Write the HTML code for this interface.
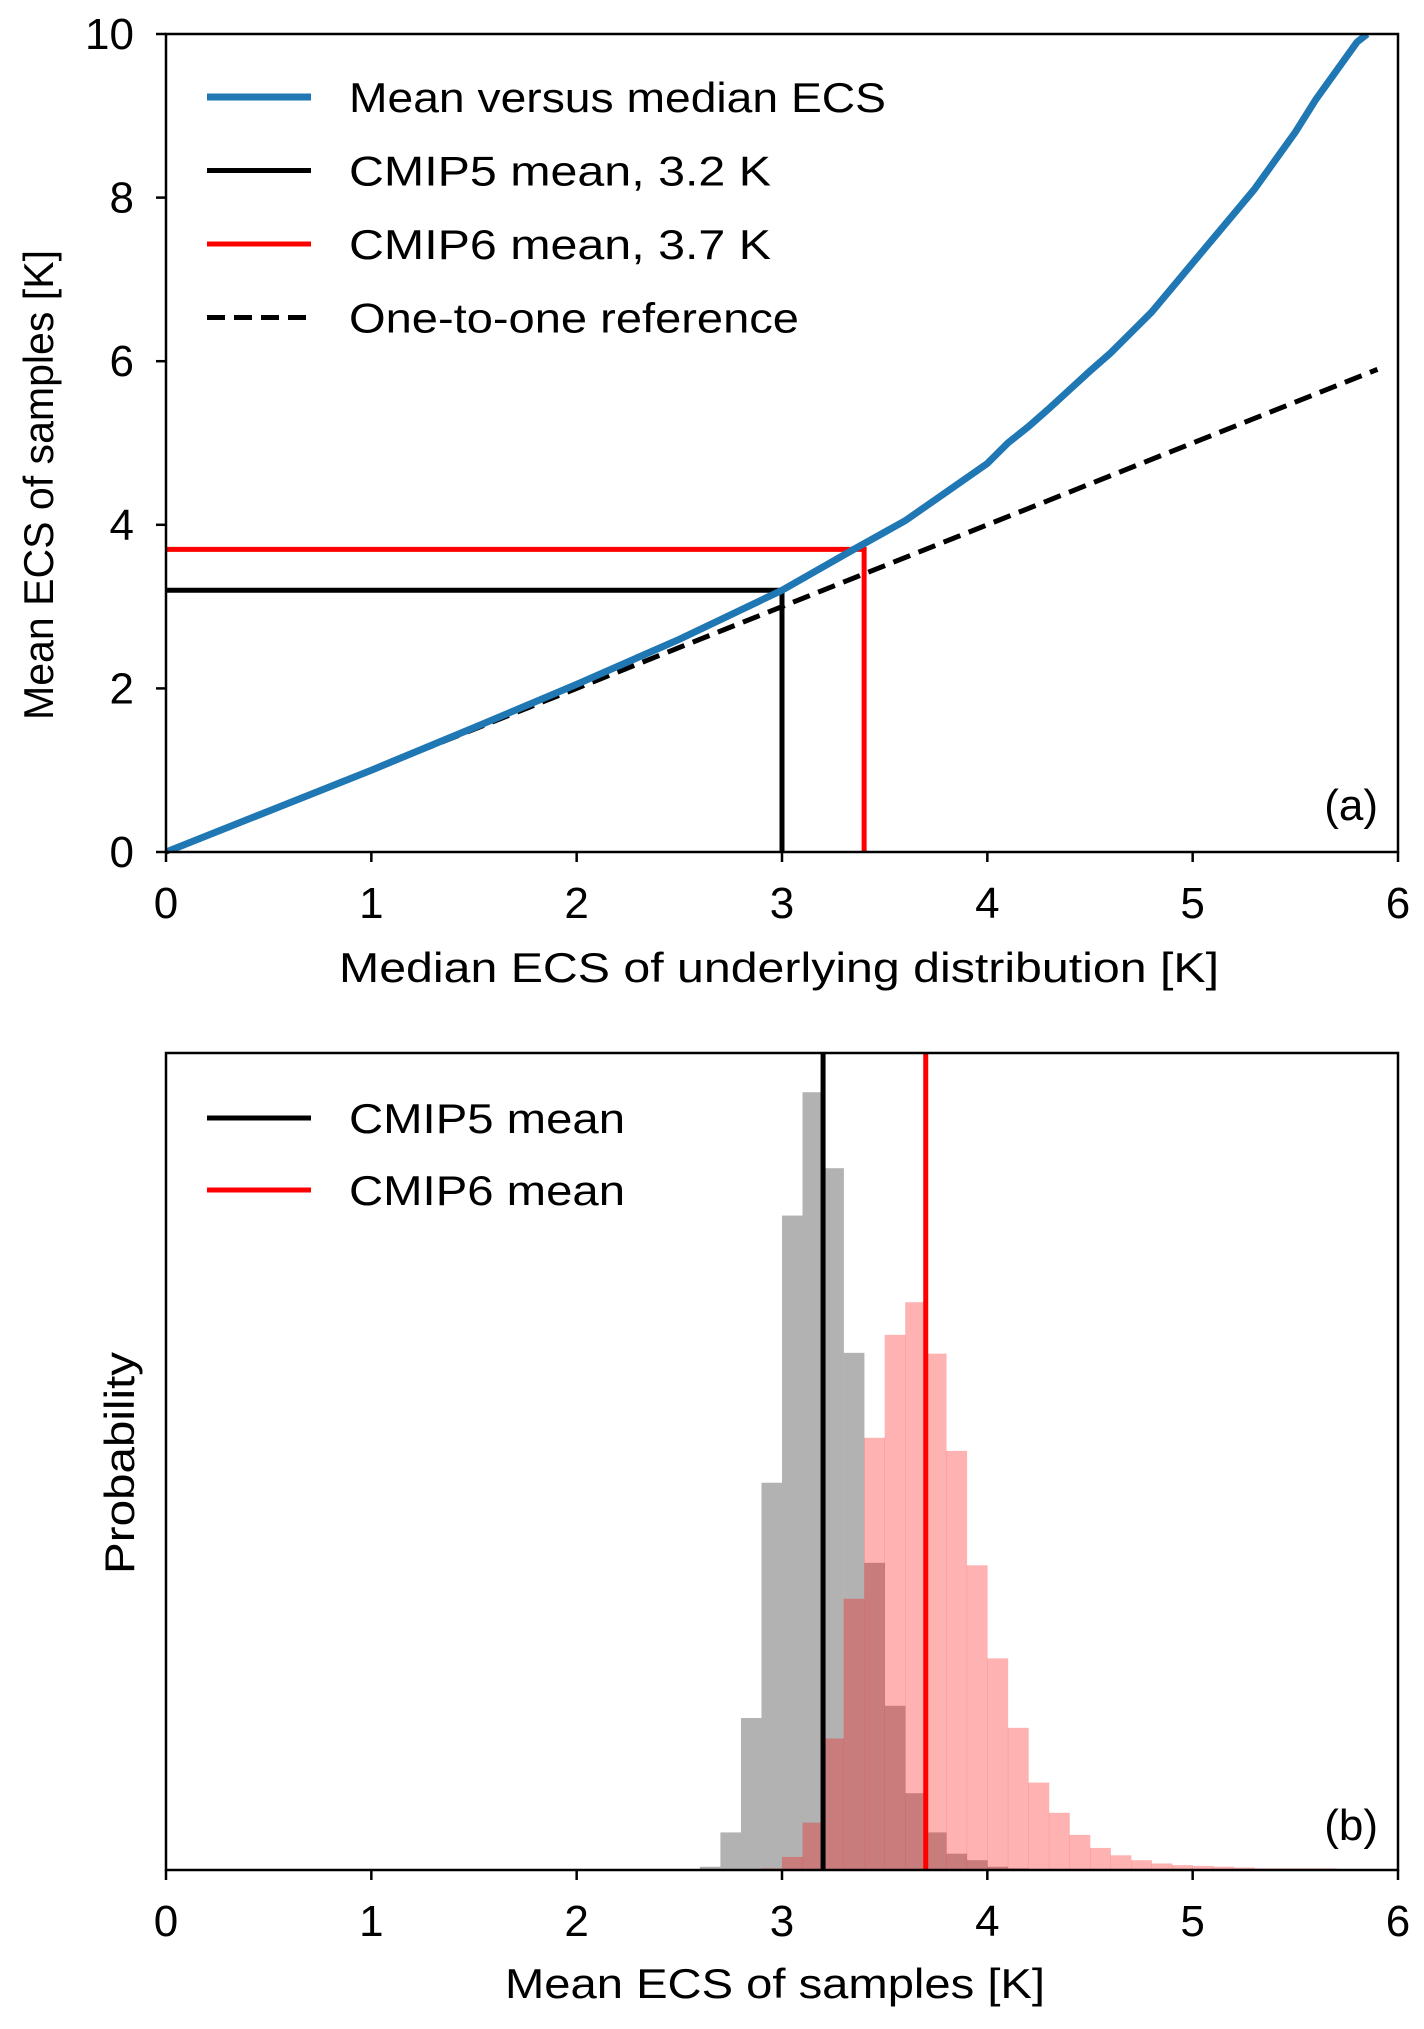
<!DOCTYPE html>
<html><head><meta charset="utf-8"><style>
html,body{margin:0;padding:0;background:#fff}
svg{display:block;font-family:"Liberation Sans",sans-serif}
</style></head><body>
<svg id="fig" width="1424" height="2029" viewBox="0 0 1424 2029"></svg>
<script>
// Panel (a) data
const medianX = [0,0.5,1,1.5,2,2.5,3,3.35,3.6,3.8,4,4.1,4.2,4.3,4.4,4.5,4.6,4.7,4.8,4.9,5,5.1,5.2,5.3,5.4,5.5,5.6,5.7,5.8,5.85];
const meanY   = [0,0.5,1.0,1.52,2.05,2.6,3.2,3.7,4.05,4.4,4.75,5.0,5.2,5.42,5.65,5.88,6.1,6.35,6.6,6.9,7.2,7.5,7.8,8.1,8.45,8.8,9.2,9.55,9.9,10];
const xTicksA = [0,1,2,3,4,5,6];
const yTicksA = [0,2,4,6,8,10];
const cmip5Mean = 3.2, cmip5Median = 3.0;
const cmip6Mean = 3.7, cmip6Median = 3.4;
// Panel (b) data (bin width 0.1)
const grayStart = 2.6;
const grayVals = [0.004,0.046,0.186,0.474,0.801,0.952,0.859,0.633,0.376,0.201,0.094,0.046,0.02,0.012,0.004,0.002];
const redStart = 2.9;
const redVals = [0.002,0.016,0.058,0.161,0.332,0.529,0.655,0.695,0.632,0.513,0.373,0.259,0.174,0.107,0.07,0.043,0.027,0.018,0.012,0.008,0.006,0.005,0.004,0.003,0.002,0.002,0.002,0.002];
const xTicksB = [0,1,2,3,4,5,6];

const NS='http://www.w3.org/2000/svg';
const svg=document.getElementById('fig');
function mk(tag,attrs,parent){const e=document.createElementNS(NS,tag);for(const k in attrs)e.setAttribute(k,attrs[k]);(parent||svg).appendChild(e);return e;}
const TF=44;

// ---- Panel A ----
const A={l:166,r:1398,t:34,b:852};
const ax=v=>A.l+(A.r-A.l)*v/6;
const ay=v=>A.b-(A.b-A.t)*v/10;
const ga=mk('g',{});


const clipA=mk('clipPath',{id:'clipA'});mk('rect',{x:A.l,y:A.t,width:A.r-A.l,height:A.b-A.t},clipA);
const dash=mk('line',{x1:ax(0),y1:ay(0),x2:ax(5.9),y2:ay(5.9),stroke:'#000','stroke-width':5,'stroke-dasharray':'18,9'},ga);


const l5=mk('polyline',{points:`${ax(0)},${ay(cmip5Mean)} ${ax(cmip5Median)},${ay(cmip5Mean)} ${ax(cmip5Median)},${ay(0)}`,fill:'none',stroke:'#000','stroke-width':5},ga);


const l6=mk('polyline',{points:`${ax(0)},${ay(cmip6Mean)} ${ax(cmip6Median)},${ay(cmip6Mean)} ${ax(cmip6Median)},${ay(0)}`,fill:'none',stroke:'#f00','stroke-width':5},ga);


const bl=mk('polyline',{points:medianX.map((x,i)=>ax(x)+','+ay(meanY[i])).join(' '),fill:'none',stroke:'#1f77b4','stroke-width':7,'clip-path':'url(#clipA)'},ga);


mk('rect',{x:A.l,y:A.t,width:A.r-A.l,height:A.b-A.t,fill:'none',stroke:'#000','stroke-width':2.5},ga);
xTicksA.forEach(v=>{mk('line',{x1:ax(v),y1:A.b,x2:ax(v),y2:A.b+10,stroke:'#000','stroke-width':2.5},ga);
 const t=mk('text',{x:ax(v),y:918,'font-size':TF,'text-anchor':'middle'},ga);t.textContent=v;
 
 });
yTicksA.forEach(v=>{mk('line',{x1:A.l-10,y1:ay(v),x2:A.l,y2:ay(v),stroke:'#000','stroke-width':2.5},ga);
 const t=mk('text',{x:134,y:ay(v)+15,'font-size':TF,'text-anchor':'end'},ga);t.textContent=v;
 
 });
let t=mk('text',{x:779,y:982,'font-size':42,'text-anchor':'middle',textLength:880,lengthAdjust:'spacingAndGlyphs'},ga);t.textContent='Median ECS of underlying distribution [K]';


t=mk('text',{x:0,y:0,'font-size':42,'text-anchor':'middle',transform:'translate(53,485) rotate(-90)',textLength:470,lengthAdjust:'spacingAndGlyphs'},ga);t.textContent='Mean ECS of samples [K]';


t=mk('text',{x:1378,y:820,'font-size':44,'text-anchor':'end'},ga);t.textContent='(a)';


const legA=[['Mean versus median ECS','#1f77b4',7,'',537],['CMIP5 mean, 3.2 K','#000',5,'',422],['CMIP6 mean, 3.7 K','#f00',5,'',422],['One-to-one reference','#000',5,'18,9',450]];
legA.forEach((e,i)=>{const y=97+i*73.5;
 const g=mk('g',{},ga);
 
 
 const a={x1:207,y1:y,x2:311,y2:y,stroke:e[1],'stroke-width':e[2]};if(e[3])a['stroke-dasharray']=e[3];mk('line',a,g);
 const tx=mk('text',{x:349,y:y+15,'font-size':42,textLength:e[4],lengthAdjust:'spacingAndGlyphs'},g);tx.textContent=e[0];});

// ---- Panel B ----
const B={l:166,r:1398,t:1053,b:1870};
const bx=v=>B.l+(B.r-B.l)*v/6;
const by=v=>B.b-(B.b-B.t)*v;
const gb=mk('g',{});


grayVals.forEach((v,i)=>{const x0=bx(grayStart+i*0.1),x1=bx(grayStart+(i+1)*0.1);
 const r=mk('rect',{x:x0,y:by(v),width:x1-x0+0.3,height:B.b-by(v),fill:'#b2b2b2'},gb);
 
 });
redVals.forEach((v,i)=>{const x0=bx(redStart+i*0.1),x1=bx(redStart+(i+1)*0.1);
 const r=mk('rect',{x:x0,y:by(v),width:x1-x0+0.3,height:B.b-by(v),fill:'rgba(255,0,0,0.3)'},gb);
 
 });
let vl=mk('line',{x1:bx(cmip5Mean),y1:B.t,x2:bx(cmip5Mean),y2:B.b,stroke:'#000','stroke-width':5},gb);


vl=mk('line',{x1:bx(cmip6Mean),y1:B.t,x2:bx(cmip6Mean),y2:B.b,stroke:'#f00','stroke-width':5},gb);


mk('rect',{x:B.l,y:B.t,width:B.r-B.l,height:B.b-B.t,fill:'none',stroke:'#000','stroke-width':2.5},gb);
xTicksB.forEach(v=>{mk('line',{x1:bx(v),y1:B.b,x2:bx(v),y2:B.b+10,stroke:'#000','stroke-width':2.5},gb);
 const t=mk('text',{x:bx(v),y:1936,'font-size':TF,'text-anchor':'middle'},gb);t.textContent=v;
 
 });
t=mk('text',{x:775,y:1998,'font-size':42,'text-anchor':'middle',textLength:540,lengthAdjust:'spacingAndGlyphs'},gb);t.textContent='Mean ECS of samples [K]';


t=mk('text',{x:0,y:0,'font-size':42,'text-anchor':'middle',transform:'translate(134,1463) rotate(-90)',textLength:222,lengthAdjust:'spacingAndGlyphs'},gb);t.textContent='Probability';


t=mk('text',{x:1378,y:1840,'font-size':44,'text-anchor':'end'},gb);t.textContent='(b)';


[['CMIP5 mean','#000'],['CMIP6 mean','#f00']].forEach((e,i)=>{const y=1118+i*72;
 const g=mk('g',{},gb);
 
 
 mk('line',{x1:207,y1:y,x2:311,y2:y,stroke:e[1],'stroke-width':5},g);
 const tx=mk('text',{x:349,y:y+15,'font-size':42,textLength:276,lengthAdjust:'spacingAndGlyphs'},g);tx.textContent=e[0];});
</script>
</body></html>
